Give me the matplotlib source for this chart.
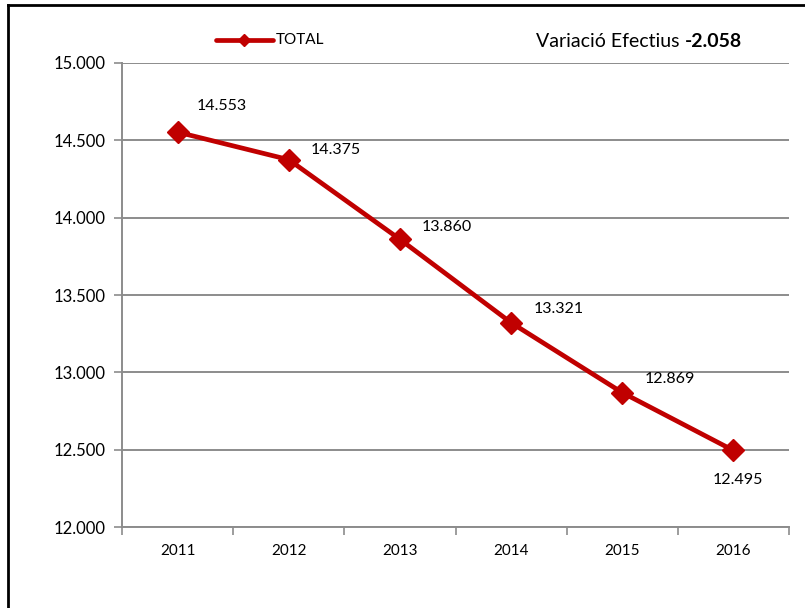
import numpy as np
import matplotlib.pyplot as plt
from matplotlib.lines import Line2D

# data
years = ["2011", "2012", "2013", "2014", "2015", "2016"]
total = [14553, 14375, 13860, 13321, 12869, 12495]
variacio = -2058

# label offsets in points (style only)
label_offsets = [(32, 19), (34, 7), (34, 9), (34, 10), (34, 10), (3, -21)]

red = "#C00000"
grey = "#8C8C8C"


def fmt(v):
    return f"{v:,}".replace(",", ".")


plt.rcParams['font.family'] = ['Lato', 'DejaVu Sans']

fig = plt.figure(figsize=(8.05, 6.08), dpi=100)
ax = fig.add_axes([0.1516, 0.1332, 0.8285, 0.7632])

x = np.arange(len(years))
ax.plot(x, total, color=red, linewidth=3.4, marker="D", markersize=11,
        markerfacecolor=red, markeredgecolor=red, zorder=3)

for xi, v, off in zip(x, total, label_offsets):
    ax.annotate(fmt(v), (xi, v), xytext=off, textcoords="offset points",
                ha="center", va="center", fontsize=11.5)

ax.set_xlim(-0.5, len(years) - 0.5)
ax.set_ylim(12000, 15000)
ax.set_yticks(np.arange(12000, 15001, 500))
ax.set_yticklabels([fmt(v) for v in range(12000, 15001, 500)], fontsize=12)
ax.yaxis.grid(True, color=grey, linewidth=1.4)
ax.set_axisbelow(True)

# category ticks at the boundaries, labels at the centres
ax.set_xticks(np.arange(-0.5, len(years)), minor=False)
ax.set_xticklabels([])
ax.set_xticks(x, minor=True)
ax.set_xticklabels(years, minor=True, fontsize=11)
ax.tick_params(axis="x", which="major", length=6, color=grey, width=1.2)
ax.tick_params(axis="x", which="minor", length=0, pad=12)
ax.tick_params(axis="y", length=6, color=grey, width=1.2, pad=6)

for s in ["top", "right"]:
    ax.spines[s].set_visible(False)
for s in ["left", "bottom"]:
    ax.spines[s].set_color(grey)
    ax.spines[s].set_linewidth(1.4)

# legend
fig.add_artist(Line2D([0.268, 0.339], [0.934, 0.934], color=red, linewidth=3.4,
                      solid_capstyle="round", transform=fig.transFigure))
fig.add_artist(Line2D([0.303], [0.934], color=red, marker="D", markersize=6,
                      transform=fig.transFigure))
fig.text(0.343, 0.934, "TOTAL", fontsize=11, va="center", ha="left")

# variation
t = fig.text(0.666, 0.932, "Variació Efectius ", fontsize=14, va="center", ha="left")
fig.canvas.draw()
bb = t.get_window_extent().transformed(fig.transFigure.inverted())
fig.text(bb.x1, 0.932, fmt(variacio), fontsize=14, fontweight="bold", va="center", ha="left")

# outer frame (top and left edges)
fig.add_artist(Line2D([0.0105, 1.0], [0.991, 0.991], color="black", linewidth=2,
                      transform=fig.transFigure))
fig.add_artist(Line2D([0.0105, 0.0105], [0.0, 0.991], color="black", linewidth=2,
                      transform=fig.transFigure))

fig.savefig("out.png", dpi=100)
